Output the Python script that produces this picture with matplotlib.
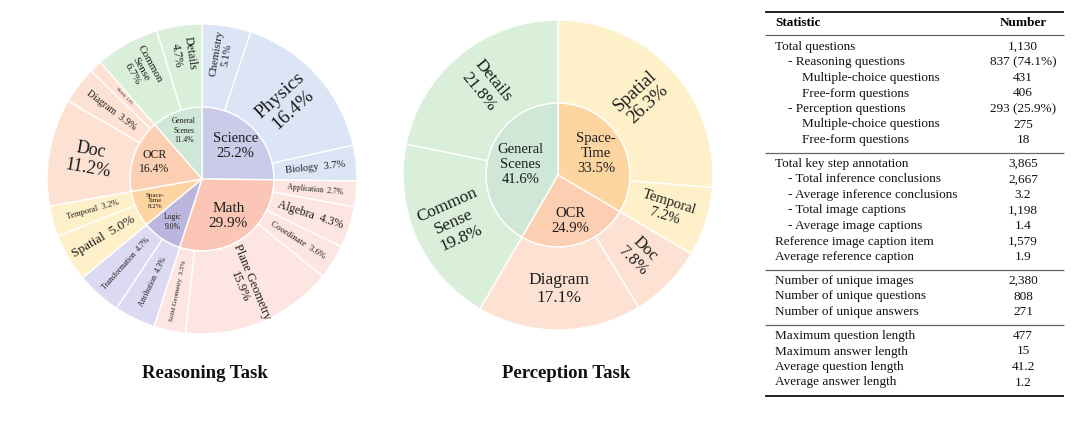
import matplotlib.pyplot as plt
import numpy as np

plt.rcParams['font.family'] = ['Liberation Serif', 'DejaVu Serif']

W, H = 1080, 422

# ---- Reasoning task data (percent of reasoning questions)
r_inner_names = ["Science", "Math", "Logic", "Space-Time", "OCR", "General Scenes"]
r_inner_pct = [25.2, 29.9, 9.0, 8.2, 16.4, 11.4]
r_outer_names = ["Chemistry", "Physics", "Biology",
                 "Application", "Algebra", "Coordinate", "Plane Geometry", "Solid Geometry",
                 "Attribution", "Transformation",
                 "Spatial", "Temporal",
                 "Doc", "Diagram", "Sketch",
                 "Common Sense", "Details"]
r_outer_pct = [5.1, 16.4, 3.7,
               2.7, 4.3, 3.6, 15.9, 3.3,
               4.3, 4.7,
               5.0, 3.2,
               11.2, 3.9, 1.3,
               6.7, 4.7]
r_outer_parent = ["Science"] * 3 + ["Math"] * 5 + ["Logic"] * 2 + ["Space-Time"] * 2 + \
                 ["OCR"] * 3 + ["General Scenes"] * 2

# ---- Perception task data
p_inner_names = ["Space-Time", "OCR", "General Scenes"]
p_inner_pct = [33.5, 24.9, 41.6]
p_outer_names = ["Spatial", "Temporal", "Doc", "Diagram", "Common Sense", "Details"]
p_outer_pct = [26.3, 7.2, 7.8, 17.1, 19.8, 21.8]
p_outer_parent = ["Space-Time", "Space-Time", "OCR", "OCR", "General Scenes", "General Scenes"]

# ---- Table data
stat_groups = [
    [("Total questions", "1,130", 0),
     ("- Reasoning questions", "837 (74.1%)", 1),
     ("Multiple-choice questions", "431", 2),
     ("Free-form questions", "406", 2),
     ("- Perception questions", "293 (25.9%)", 1),
     ("Multiple-choice questions", "275", 2),
     ("Free-form questions", "18", 2)],
    [("Total key step annotation", "3,865", 0),
     ("- Total inference conclusions", "2,667", 1),
     ("- Average inference conclusions", "3.2", 1),
     ("- Total image captions", "1,198", 1),
     ("- Average image captions", "1.4", 1),
     ("Reference image caption item", "1,579", 0),
     ("Average reference caption", "1.9", 0)],
    [("Number of unique images", "2,380", 0),
     ("Number of unique questions", "808", 0),
     ("Number of unique answers", "271", 0)],
    [("Maximum question length", "477", 0),
     ("Maximum answer length", "15", 0),
     ("Average question length", "41.2", 0),
     ("Average answer length", "1.2", 0)],
]

# ---- styles
inner_colors = {"Science": "#c9cbe8", "Math": "#fcc6b6", "Logic": "#bbb6de",
                "Space-Time": "#fdd5a1", "OCR": "#fdcfb2", "General Scenes": "#cfe7d6"}
outer_colors = {"Science": "#dce5f6", "Math": "#fde6e2", "Logic": "#dcd9f3",
                "Space-Time": "#fef1ca", "OCR": "#fde2d3", "General Scenes": "#d9efd9"}
line_breaks = {"Common Sense": "Common\nSense", "General Scenes": "General\nScenes",
               "Space-Time": "Space-\nTime"}

r_single_line = {"Biology", "Application", "Algebra", "Coordinate", "Solid Geometry",
                 "Attribution", "Transformation", "Spatial", "Temporal", "Diagram", "Sketch"}
r_outer_sizes = [8, 14, 7.5, 5.5, 8.5, 6.5, 9, 5, 5.5, 5.5, 9.5, 6, 13, 7, 3, 8, 8.5]
r_inner_sizes = [10.5, 11, 5.5, 5, 8.5, 5.5]

p_single_line = set()
p_outer_sizes = [13.5, 10.5, 12, 12.5, 12.5, 12.5]
p_inner_sizes = [10.5, 10.5, 10.5]
p_horizontal = {"Diagram"}

R_OUT, R_IN = 155, 72
TXT = "#1c1c1c"


def label_text(name, pct, single):
    shown = line_breaks.get(name, name)
    if single:
        return f"{shown}  {pct:.1f}%"
    return f"{shown}\n{pct:.1f}%"


def sunburst(ax, center, inner_names, inner_pct, outer_names, outer_pct, outer_parent,
             inner_sizes, outer_sizes, single, horizontal=()):
    inner_w, _ = ax.pie(inner_pct, radius=R_IN, center=center, startangle=90,
                        counterclock=False, colors=[inner_colors[n] for n in inner_names],
                        wedgeprops=dict(edgecolor="white", linewidth=1))
    outer_w, _ = ax.pie(outer_pct, radius=R_OUT, center=center, startangle=90,
                        counterclock=False, colors=[outer_colors[p] for p in outer_parent],
                        wedgeprops=dict(width=R_OUT - R_IN, edgecolor="white", linewidth=1))
    cx, cy = center
    for w, name, pct, fs in zip(inner_w, inner_names, inner_pct, inner_sizes):
        mid = np.deg2rad((w.theta1 + w.theta2) / 2)
        half = np.deg2rad(w.theta2 - w.theta1) / 2
        r = 1.1 * 2 * R_IN * np.sin(min(half, np.pi / 2)) / (3 * half)
        ax.text(cx + r * np.cos(mid), cy + r * np.sin(mid), label_text(name, pct, False),
                ha="center", va="center", fontsize=fs, color=TXT, linespacing=1.2)
    for w, name, pct, fs in zip(outer_w, outer_names, outer_pct, outer_sizes):
        mid_deg = (w.theta1 + w.theta2) / 2
        mid = np.deg2rad(mid_deg)
        one_line = name in single
        # narrow wedges with stacked text sit further out, where there is room
        r = 126 if (not one_line and pct < 8 and w.theta2 - w.theta1 < 25) else 114
        rot = (mid_deg + 180) % 360 - 180
        if rot > 90:
            rot -= 180
        elif rot < -90:
            rot += 180
        if name in horizontal:
            rot = 0
        ax.text(cx + r * np.cos(mid), cy + r * np.sin(mid), label_text(name, pct, one_line),
                ha="center", va="center", rotation=rot, rotation_mode="anchor",
                fontsize=fs, color=TXT, linespacing=1.15)


fig = plt.figure(figsize=(W / 100, H / 100), dpi=100)
ax = fig.add_axes([0, 0, 1, 1])

sunburst(ax, (202, H - 179), r_inner_names, r_inner_pct, r_outer_names, r_outer_pct,
         r_outer_parent, r_inner_sizes, r_outer_sizes, r_single_line)
sunburst(ax, (558, H - 175), p_inner_names, p_inner_pct, p_outer_names, p_outer_pct,
         p_outer_parent, p_inner_sizes, p_outer_sizes, p_single_line, p_horizontal)

ax.text(205, H - 373, "Reasoning Task", ha="center", va="center", fontsize=13.5,
        fontweight="bold", color="#111111")
ax.text(566, H - 373, "Perception Task", ha="center", va="center", fontsize=13.5,
        fontweight="bold", color="#111111")

# ---- statistics table
x0, x1 = 765, 1064
x_text, x_num = 775, 1023
indent = [0, 13, 27]
row_h = 15.5
fs_tab = 9.5

ax.plot([x0, x1], [H - 12, H - 12], color="#222222", lw=1.4, solid_capstyle="butt")
ax.text(x_text, H - 23, "Statistic", ha="left", va="center", fontsize=fs_tab, fontweight="bold")
ax.text(x_num, H - 23, "Number", ha="center", va="center", fontsize=fs_tab, fontweight="bold")
ax.plot([x0, x1], [H - 35, H - 35], color="#555555", lw=0.8, solid_capstyle="butt")

y = 47
for gi, group in enumerate(stat_groups):
    for label, value, lvl in group:
        ax.text(x_text + indent[lvl], H - y, label, ha="left", va="center", fontsize=fs_tab,
                color="#111111")
        ax.text(x_num, H - y, value, ha="center", va="center", fontsize=fs_tab, color="#111111")
        y += row_h
    rule_y = y - row_h + 13
    if gi < len(stat_groups) - 1:
        ax.plot([x0, x1], [H - rule_y, H - rule_y], color="#666666", lw=0.9, solid_capstyle="butt")
        y = rule_y + 11
    else:
        ax.plot([x0, x1], [H - rule_y, H - rule_y], color="#222222", lw=1.4, solid_capstyle="butt")

ax.set_xlim(0, W)
ax.set_ylim(0, H)
ax.set_aspect("auto")
ax.axis("off")

fig.savefig("out.png", dpi=100, facecolor="white")
